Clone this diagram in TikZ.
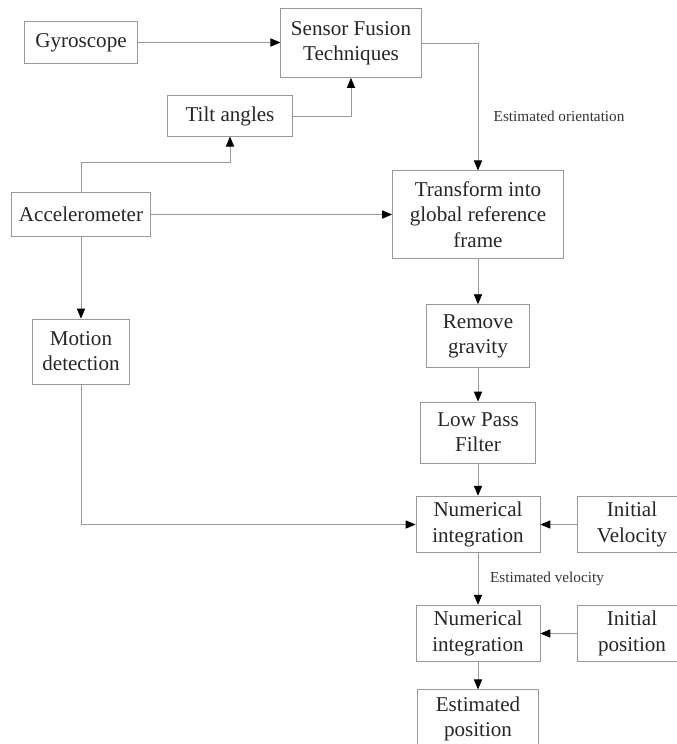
\documentclass[tikz,border=0pt]{standalone}
\usepackage{fontspec}
\setmainfont{Liberation Serif}
\usepackage{tikz}
\usetikzlibrary{arrows.meta}
\usepackage{xcolor}

\begin{document}
\begin{tikzpicture}[x=0.03cm,y=-0.03cm,
  blk/.style={draw=gray!80, line width=0.7pt, inner sep=0pt, align=center,
    text=black!85, font=\fontsize{18}{21.5}\selectfont},
  con/.style={draw=gray!80, line width=0.7pt, -{Triangle[length=8.5pt,width=7pt,black]}},
  lbl/.style={text=black!80, font=\fontsize{13}{15}\selectfont, inner sep=0pt}]
\useasboundingbox (0,0) rectangle (677,744);
\clip (0,0) rectangle (677,744);

% boxes
\node [blk, minimum width=3.4cm, minimum height=1.25cm] (gyro) at (81,42.5) {Gyroscope};
\node [blk, minimum width=4.21cm, minimum height=2.07cm] (fusion) at (351,43) {Sensor Fusion\\Techniques};
\node [blk, minimum width=3.74cm, minimum height=1.21cm] (tilt) at (230,116) {Tilt angles};
\node [blk, minimum width=4.18cm, minimum height=1.3cm] (accel) at (81,214.5) {Accelerometer};
\node [blk, minimum width=5.13cm, minimum height=2.62cm] (global) at (478,214.5) {Transform into\\global reference\\frame};
\node [blk, minimum width=2.9cm, minimum height=1.95cm] (motion) at (81,351.5) {Motion\\detection};
\node [blk, minimum width=3.1cm, minimum height=1.88cm] (gravity) at (478,336) {Remove\\gravity};
\node [blk, minimum width=3.43cm, minimum height=1.83cm] (lowpass) at (478,432.5) {Low Pass\\Filter};
\node [blk, minimum width=3.72cm, minimum height=1.7cm] (intvel) at (478,524.5) {Numerical\\integration};
\node [blk, minimum width=3.3cm, minimum height=1.7cm] (initvel) at (632,524.5) {Initial\\Velocity};
\node [blk, minimum width=3.72cm, minimum height=1.7cm] (intpos) at (478,633.5) {Numerical\\integration};
\node [blk, minimum width=3.3cm, minimum height=1.7cm] (initpos) at (632,633.5) {Initial\\position};
\node [blk, minimum width=3.63cm, minimum height=1.75cm] (estpos) at (478,719) {Estimated\\position};

% labels
\node [lbl, anchor=west] (orient) at (493.5,116) {Estimated orientation};
\coordinate (tiltbend) at (230,162);

% connectors
\draw [con] (gyro.east) -- (gyro.east -| fusion.west);
\draw [con] (fusion.east) -| (global.north);
\draw [con] (tilt.east) -| (fusion.south);
\draw [con] (accel.north) |- (tiltbend) -- (tilt.south);
\draw [con] (accel.east) -- (accel.east -| global.west);
\draw [con] (accel.south) -- (motion.north);
\draw [con] (motion.south) |- (intvel.west);
\draw [con] (global.south) -- (gravity.north);
\draw [con] (gravity.south) -- (lowpass.north);
\draw [con] (lowpass.south) -- (intvel.north);
\draw [con] (initvel.west) -- (intvel.east);
\draw [con] (intvel.south) -- node [lbl, anchor=west, xshift=10] {Estimated velocity} (intpos.north);
\draw [con] (initpos.west) -- (intpos.east);
\draw [con] (intpos.south) -- (estpos.north);

\end{tikzpicture}
\end{document}
